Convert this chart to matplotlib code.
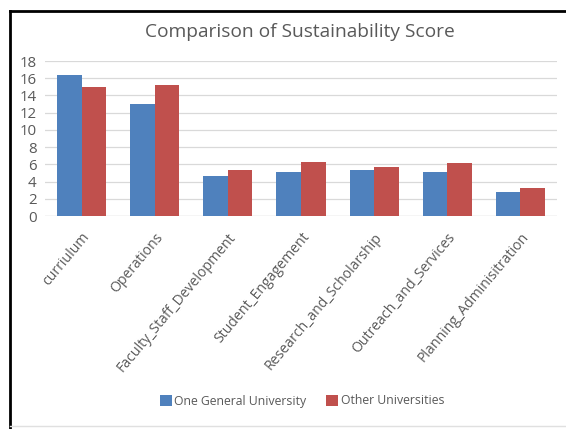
import matplotlib
matplotlib.use("Agg")
import matplotlib.pyplot as plt
import numpy as np
from matplotlib.patches import Patch

categories = ["curriulum", "Operations", "Faculty_Staff_Development", "Student_Engagement",
              "Research_and_Scholarship", "Outreach_and_Services", "Planning_Adminisitration"]
one_general = [16.4, 13.0, 4.6, 5.1, 5.4, 5.1, 2.8]
other_univ = [15.0, 15.2, 5.3, 6.3, 5.7, 6.1, 3.2]
series_names = ["One General University", "Other Universities"]
yticks = list(range(0, 19, 2))

plt.rcParams['font.family'] = ['Open Sans', 'DejaVu Sans']
gray = "#595959"
blue = "#4F81BD"
red = "#C0504D"

fig = plt.figure(figsize=(5.66, 4.29), dpi=100)
W, H = 566, 429
ax = fig.add_axes([45 / W, 1 - 216 / H, (557 - 45) / W, (216 - 61) / H])

x = np.arange(len(categories))
bw = 0.335
ax.bar(x - bw / 2, one_general, bw, color=blue, zorder=3)
ax.bar(x + bw / 2, other_univ, bw, color=red, zorder=3)

ax.set_ylim(0, 18)
ax.set_xlim(-0.5, len(categories) - 0.5)
ax.set_yticks(yticks)
ax.set_yticklabels([str(t) for t in yticks], color=gray, fontsize=10.8)
ax.yaxis.grid(True, color="#D9D9D9", linewidth=0.9, zorder=0)
ax.tick_params(axis='y', length=0, pad=6)
ax.tick_params(axis='x', length=0, pad=10)
for s in ax.spines.values():
    s.set_visible(False)
ax.axhline(0, color="#D9D9D9", linewidth=0.9, zorder=2)

ax.set_xticks(x)
ax.set_xticklabels(categories, rotation=50, ha='right', va='top', rotation_mode='anchor',
                   color=gray, fontsize=10.1)

fig.text(300 / W, 1 - 32 / H, "Comparison of Sustainability Score", ha='center', va='center',
         fontsize=13.8, color=gray)

handles = [Patch(facecolor=blue), Patch(facecolor=red)]
fig.legend(handles, series_names, loc='center', bbox_to_anchor=(302 / W, 1 - 401 / H),
           ncol=2, frameon=False, fontsize=8.8, labelcolor=gray, handlelength=1.0,
           handleheight=1.0, handletextpad=0.2, columnspacing=1.6)

# frame lines
fig.add_artist(plt.Line2D([10 / W, 10 / W], [0, 1 - 11 / H], color='black', linewidth=2,
                          transform=fig.transFigure))
fig.add_artist(plt.Line2D([10 / W, 1], [1 - 11 / H, 1 - 11 / H], color='black', linewidth=2,
                          transform=fig.transFigure))
fig.add_artist(plt.Line2D([10 / W, 1], [1 - 426 / H, 1 - 426 / H], color='#E0E0E0', linewidth=1,
                          transform=fig.transFigure))

fig.savefig("out.png", dpi=100)
